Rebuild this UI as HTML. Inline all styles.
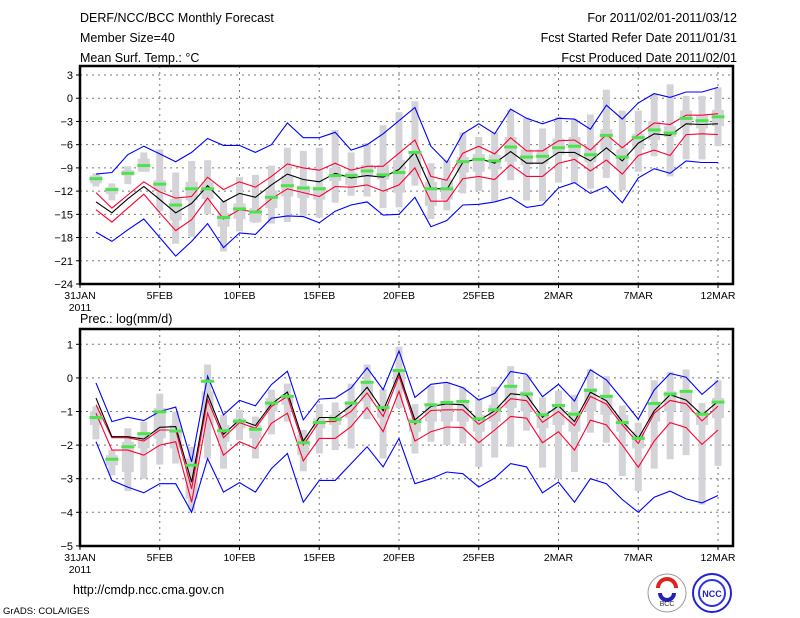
<!DOCTYPE html>
<html><head><meta charset="utf-8"><style>
html,body{margin:0;padding:0;background:#fff;width:800px;height:618px;overflow:hidden}
svg text{font-family:"Liberation Sans",sans-serif;}
</style></head><body>
<svg id="c" width="800" height="618" viewBox="0 0 800 618" xmlns="http://www.w3.org/2000/svg">
<rect width="800" height="618" fill="#fff"/>
<g font-size="12.5" fill="#000">
<text x="80" y="22">DERF/NCC/BCC Monthly Forecast</text>
<text x="80" y="42">Member Size=40</text>
<text x="80" y="62">Mean Surf. Temp.: °C</text>
<text x="737" y="22" text-anchor="end">For 2011/02/01-2011/03/12</text>
<text x="737" y="42" text-anchor="end">Fcst Started Refer Date 2011/01/31</text>
<text x="737" y="62" text-anchor="end">Fcst Produced Date 2011/02/01</text>
<text x="80" y="323">Prec.: log(mm/d)</text>
<text x="73" y="594">http://cmdp.ncc.cma.gov.cn</text>
<text x="3" y="614" font-size="9.5">GrADS: COLA/IGES</text>
</g>
<g>
<circle cx="667" cy="593" r="19" fill="#fff" stroke="#999" stroke-width="1"/>
<path d="M658 588 a9 9 0 1 1 18 0" fill="none" stroke="#d22" stroke-width="4"/>
<path d="M660 593 a7 7 0 0 0 14 0" fill="none" stroke="#22b" stroke-width="4"/>
<text x="667" y="606" font-size="7" text-anchor="middle" fill="#333">BCC</text>
</g>
<g>
<circle cx="712" cy="593" r="19" fill="#fff" stroke="#22c" stroke-width="2"/>
<circle cx="712" cy="593" r="13" fill="none" stroke="#33d" stroke-width="2"/>
<text x="712" y="597" font-size="9" text-anchor="middle" fill="#22c" font-weight="bold">NCC</text>
</g>
</svg>
<script>
const days = [1,2,3,4,5,6,7,8,9,10,11,12,13,14,15,16,17,18,19,20,21,22,23,24,25,26,27,28,29,30,31,32,33,34,35,36,37,38,39,40];
const xTickLabels = ["31JAN","5FEB","10FEB","15FEB","20FEB","25FEB","2MAR","7MAR","12MAR"];
const tTicks = [3,0,-3,-6,-9,-12,-15,-18,-21,-24];
const pTicks = [1,0,-1,-2,-3,-4,-5];
// Temperature
const tMax = [-9.8,-9.6,-7.3,-6.2,-7.2,-8.2,-7,-5.2,-6.1,-6.1,-7,-6,-3.2,-5.1,-5.1,-4.4,-6.7,-6,-4.6,-2.9,-1.2,-6.2,-8.3,-4.6,-3.3,-4.6,-1.4,-2.6,-3.3,-2.6,-2.7,-4.0,-0.9,-2.7,-0.6,0.6,0.1,0.8,0.8,1.4];
const tMin = [-17.3,-18.5,-17,-15.6,-18,-20.4,-18.5,-16.2,-19.3,-17.4,-17.6,-15.5,-15.2,-15.3,-16.1,-14.6,-13.8,-13.4,-15.1,-15,-12.8,-16.6,-15.8,-13.8,-13.7,-13.4,-12.8,-14.1,-13.8,-11.6,-10.9,-12.3,-11.4,-13.5,-10.3,-9.1,-9.7,-8.1,-8.3,-8.3];
const tMean = [-13.4,-14.8,-13,-11.4,-13.1,-14.8,-13.6,-11.3,-13.4,-12.3,-12.8,-11.2,-9.8,-10.5,-10.8,-9.7,-10.3,-10,-10.2,-9.2,-7,-11.6,-11.8,-8.3,-7.8,-8.4,-6.9,-8.4,-8.4,-7,-7,-8.1,-6.4,-8.1,-5.8,-4.6,-4.8,-3.3,-3.4,-3.3];
const tUp = [-12.2,-14.2,-12.5,-10.8,-12.1,-12.9,-12.7,-10.2,-11.8,-10.8,-11.5,-10.1,-8.5,-9,-9.3,-8.4,-9.3,-8.8,-8.8,-7.1,-5.4,-10.1,-10.6,-7.1,-6.2,-7.2,-5.1,-6.8,-6.8,-5.5,-5.4,-6.7,-4.7,-6.4,-4.7,-3.2,-3.4,-2.2,-2.2,-2];
const tLo = [-14.4,-16,-14.2,-12.4,-14.8,-17.1,-15.7,-12.9,-15.6,-14.4,-14.7,-13,-11.7,-12.2,-12.7,-11.4,-11.5,-11.2,-12,-11.2,-9,-13.3,-13.3,-10.4,-10.1,-10.5,-8.6,-10.1,-10.1,-8.4,-7.9,-9.4,-8,-9.8,-7.4,-6.7,-7.4,-4.7,-4.6,-4.7];
const tObs = [-10.4,-11.8,-9.7,-8.7,-11.1,-13.8,-11.7,-11.7,-15.4,-14.3,-14.7,-12.8,-11.3,-11.6,-11.7,-10,-10,-9.4,-9.9,-9.6,-7,-11.7,-11.7,-8.2,-7.9,-8.1,-6.3,-7.6,-7.5,-6.4,-6.2,-7.3,-4.8,-7.6,-5.1,-4.1,-4.5,-2.6,-2.9,-2.4];
const tBarHi = [-9.7,-11,-8.8,-7,-6.6,-9.6,-8.1,-8,-13.3,-10.2,-9.9,-8.7,-6.4,-6.8,-6.4,-4.1,-7,-5.8,-3.5,-1.8,-0.4,-8.4,-8,-4.4,-5,-4.4,-1.5,-2.5,-3.9,-2.4,-2.7,-2.1,1.1,-1.6,-1.6,0.6,1.8,0.3,0.3,1.4];
const tBarLo = [-11.4,-13.2,-11.1,-9.5,-14.6,-18.8,-17.9,-15,-19.8,-17.2,-16.1,-16.2,-16,-15.2,-15.4,-13.5,-12.6,-12.7,-14.2,-14.1,-11.3,-15.6,-14.5,-12.3,-12,-13.3,-10.6,-13.2,-13.3,-10.9,-11,-11.7,-10.3,-11.9,-9.5,-7.5,-10.1,-7.9,-7.9,-6.2];
const tBoxHi = [-10,-11.5,-9.3,-7.8,-10.6,-13,-10.8,-10.8,-14.8,-13.6,-14.2,-11.9,-10,-11.3,-11.4,-9,-9.6,-8.6,-8.6,-8,-7.2,-10.8,-10.5,-7.6,-7.2,-7.3,-5,-6.6,-6.6,-5.2,-5,-6,-4,-6.6,-4.6,-3,-3.6,-1.6,-2.2,-1.5];
const tBoxLo = [-11,-12.4,-10,-9.5,-12,-15.8,-13.2,-13,-16.6,-15.6,-16,-14.2,-12.7,-12.9,-13.1,-10.7,-11.2,-10.1,-10.5,-12.2,-10,-13.9,-13.1,-9.6,-9.5,-9.2,-8.2,-8.6,-8.5,-7.3,-7.6,-8.3,-6.7,-9.2,-6.6,-5.4,-5,-3.6,-3.9,-3.6];
// Precipitation
const pMax = [-0.15,-1.3,-1.17,-1.27,-1,-0.87,-2.5,0.05,-1.1,-0.67,-0.83,-0.2,0.2,-1.25,-0.63,-0.6,-0.3,0.3,-0.35,0.8,-0.58,-0.19,-0.13,-0.29,-0.66,-0.46,0.19,0.11,-0.56,-0.19,-0.69,0.24,-0.06,-0.63,-1.23,-0.36,0.13,0.02,-0.49,-0.08];
const pMin = [-1.9,-3.05,-3.25,-3.42,-3.15,-3.15,-4,-2.4,-3.4,-3.12,-3.4,-2.7,-2.25,-3.7,-3.05,-3.05,-2.55,-2.05,-2.65,-1.8,-3.15,-3,-2.8,-2.85,-3.25,-2.98,-2.55,-2.65,-3.42,-3.1,-3.7,-3,-3.15,-3.62,-4,-3.55,-3.37,-3.6,-3.72,-3.5];
const pMean = [-0.6,-1.75,-1.75,-1.82,-1.47,-1.45,-3.1,-0.5,-1.68,-1.25,-1.42,-0.78,-0.42,-1.88,-1.18,-1.18,-0.82,-0.28,-0.98,0.15,-1.25,-0.85,-0.77,-0.8,-1.27,-0.98,-0.47,-0.52,-1.17,-0.83,-1.3,-0.43,-0.68,-1.3,-1.8,-0.98,-0.5,-0.66,-1.1,-0.7];
const pUp = [-0.8,-1.78,-1.78,-1.88,-1.55,-1.55,-3.3,-0.65,-1.78,-1.33,-1.5,-0.85,-0.55,-2,-1.3,-1.3,-1,-0.45,-1.15,0.05,-1.38,-0.97,-0.95,-0.95,-1.38,-1.08,-0.62,-0.68,-1.32,-1,-1.42,-0.55,-0.78,-1.4,-1.95,-1.05,-0.67,-0.77,-1.28,-0.84];
const pLo = [-1.05,-2.15,-2.15,-2.3,-2,-1.9,-3.7,-1.05,-2.3,-1.9,-2.1,-1.35,-1.05,-2.47,-1.8,-1.8,-1.45,-0.88,-1.6,-0.4,-1.88,-1.6,-1.46,-1.48,-1.93,-1.55,-1.15,-1.2,-1.93,-1.6,-2.15,-1.26,-1.4,-2,-2.66,-1.88,-1.33,-1.48,-1.98,-1.55];
const pObs = [-1.18,-2.42,-2.05,-1.66,-1.01,-1.58,-2.6,-0.1,-1.57,-1.29,-1.53,-0.75,-0.55,-1.93,-1.33,-1.23,-0.75,-0.13,-0.88,0.22,-1.3,-0.8,-0.73,-0.7,-1.22,-0.95,-0.25,-0.48,-1.1,-0.82,-1.08,-0.37,-0.55,-1.33,-1.8,-0.76,-0.48,-0.4,-1.08,-0.72];
const pBarHi = [-0.85,-2.15,-1.5,-1.3,-0.47,-1,-2.05,0.4,-1.1,-0.95,-1.15,-0.35,-0.17,-1.55,-0.78,-0.73,-0.17,0.4,-0.33,0.93,-0.78,-0.23,-0.13,-0.28,-0.6,-0.26,0.35,0.08,-0.58,-0.38,-0.5,0.25,0.05,-0.82,-1.33,-0.07,0.18,0.25,-0.75,-0.07];
const pBarLo = [-1.83,-2.9,-3.37,-3,-2.58,-2.55,-3.95,-2.4,-2.7,-1.85,-2.4,-1.68,-1.3,-2.78,-2.25,-2.15,-2.1,-1.23,-2.4,-0.9,-2.25,-1.9,-2,-1.95,-2.65,-2.37,-2.05,-1.57,-2.67,-3,-2.8,-1.63,-1.93,-2.92,-3.37,-2.7,-2.42,-2.3,-3.77,-2.62];
const pBoxHi = [-1,-2.3,-1.9,-1.7,-0.9,-1.4,-2.4,-0.4,-1.4,-1.2,-1.4,-0.6,-0.5,-1.7,-1.2,-1.1,-0.7,-0.1,-0.8,0.2,-1.2,-0.8,-0.75,-0.7,-1.1,-0.8,-0.3,-0.4,-1,-0.8,-1,-0.3,-0.5,-1.1,-1.6,-0.8,-0.4,-0.4,-1,-0.6];
const pBoxLo = [-1.4,-2.6,-2.8,-2.1,-1.8,-2.1,-3.6,-1.4,-1.9,-1.5,-1.8,-1,-0.8,-2.3,-1.5,-1.4,-1.2,-0.7,-1.2,-0.3,-1.6,-1.3,-1.3,-1.3,-1.6,-1.3,-0.9,-1,-1.5,-1.4,-1.6,-1,-1.1,-1.6,-2.1,-1.3,-1,-1,-1.4,-1.2];

const NS = "http://www.w3.org/2000/svg";
const svg = document.getElementById("c");
function mk(tag, attrs, parent) {
  const e = document.createElementNS(NS, tag);
  for (const k in attrs) e.setAttribute(k, attrs[k]);
  (parent || svg).appendChild(e);
  return e;
}
const X0 = 80, X1 = 733, DX = 15.95;
function xs(d) { return X0 + d * DX; }

function panel(cfg) {
  const g = mk("g", {});
  
  
  const ys = cfg.ys;
  // grid
  cfg.ticks.forEach(function (t) {
    const y = ys(t);
    if (y > cfg.top + 1 && y < cfg.bot - 1) {
      const ln = mk("line", {x1: X0, x2: X1, y1: y, y2: y, stroke: "#777", "stroke-width": 1, "stroke-dasharray": "2,4"}, g);
      
      
    }
    const tk = mk("line", {x1: X0 - 4, x2: X0, y1: y, y2: y, stroke: "#000"}, g);
    
    
    const tx = mk("text", {x: X0 - 7, y: y + 4, "text-anchor": "end", "font-size": 11}, g);
    tx.textContent = String(t).replace("-", "\u2212");
    
    
  });
  xTickLabels.forEach(function (lab, i) {
    const x = xs(i * 5);
    if (i > 0 && i < xTickLabels.length) {
      const ln = mk("line", {x1: x, x2: x, y1: cfg.top, y2: cfg.bot, stroke: "#777", "stroke-width": 1, "stroke-dasharray": "2,4"}, g);
      
      
    }
    const tk = mk("line", {x1: x, x2: x, y1: cfg.bot, y2: cfg.bot + 4, stroke: "#000"}, g);
    
    
    const tx = mk("text", {x: x, y: cfg.bot + 15, "text-anchor": "middle", "font-size": 10.5}, g);
    tx.textContent = lab;
    
    
  });
  const yr = mk("text", {x: X0, y: cfg.bot + 27, "text-anchor": "middle", "font-size": 10.5}, g);
  yr.textContent = "2011";
  
  
  // bars
  days.forEach(function (d, i) {
    const x = xs(d);
    const w = mk("rect", {x: x - 3.5, width: 7, y: ys(cfg.barHi[i]), height: ys(cfg.barLo[i]) - ys(cfg.barHi[i]), fill: "#d4d4d8"}, g);
    
    
    const b = mk("rect", {x: x - 6, width: 12, y: ys(cfg.boxHi[i]), height: ys(cfg.boxLo[i]) - ys(cfg.boxHi[i]), fill: "#d4d4d8"}, g);
    
    
  });
  // lines
  function line(arr, color, nm) {
    const pts = days.map(function (d, i) { return xs(d).toFixed(1) + "," + ys(arr[i]).toFixed(1); }).join(" ");
    const pl = mk("polyline", {points: pts, fill: "none", stroke: color, "stroke-width": 1.1}, g);
    
    
  }
  line(cfg.max, "#0000ff", "max-line");
  line(cfg.min, "#0000ff", "min-line");
  line(cfg.up, "#ff0033", "upper-spread-line");
  line(cfg.lo, "#ff0033", "lower-spread-line");
  line(cfg.mean, "#000000", "ensemble-mean-line");
  days.forEach(function (d, i) {
    const o = mk("rect", {x: xs(d) - 6.5, width: 13, y: ys(cfg.obs[i]) - 1.5, height: 3, fill: "#4ee24e"}, g);
    
    
  });
  const fr = mk("rect", {x: X0, y: cfg.top, width: X1 - X0, height: cfg.bot - cfg.top, fill: "none", stroke: "#000", "stroke-width": 2.5}, g);
  
  
}

panel({name: "temperature-panel", top: 66, bot: 284, ticks: tTicks,
  ys: function (v) { return 75 + (3 - v) * 7.74; },
  max: tMax, min: tMin, mean: tMean, up: tUp, lo: tLo, obs: tObs,
  barHi: tBarHi, barLo: tBarLo, boxHi: tBoxHi, boxLo: tBoxLo});
panel({name: "precipitation-panel", top: 329, bot: 546, ticks: pTicks,
  ys: function (v) { return 344.3 + (1 - v) * 33.6; },
  max: pMax, min: pMin, mean: pMean, up: pUp, lo: pLo, obs: pObs,
  barHi: pBarHi, barLo: pBarLo, boxHi: pBoxHi, boxLo: pBoxLo});
</script>
</body></html>
